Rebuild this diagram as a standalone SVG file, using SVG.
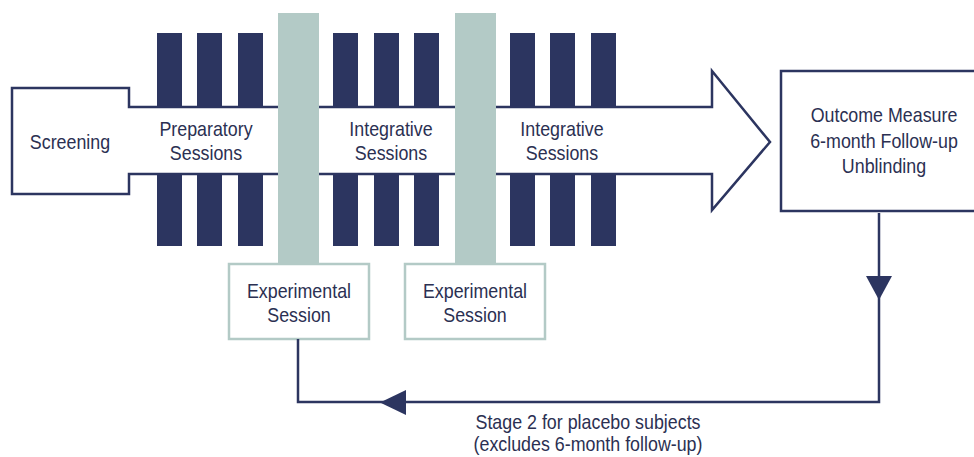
<svg xmlns="http://www.w3.org/2000/svg" width="974" height="457" viewBox="0 0 974 457">
<defs>
<style>
.bar{fill:#2c3560}
.col{fill:#b3cac6}
.out{fill:#fff;stroke:#2c3560;stroke-width:2.5}
.exp{fill:#fff;stroke:#b3cac6;stroke-width:2.5}
.conn{fill:none;stroke:#2c3560;stroke-width:2.5}
.head{fill:#2c3560}
text{font-family:"Liberation Sans",Arial,sans-serif;font-size:21px;fill:#2b3052;text-anchor:middle}
</style>
</defs>
<rect width="974" height="457" fill="#fff"/>
<g id="bars">
<rect class="bar" x="157" y="33" width="25" height="213"/>
<rect class="bar" x="197" y="33" width="25" height="213"/>
<rect class="bar" x="238" y="33" width="25" height="213"/>
<rect class="bar" x="333" y="33" width="25" height="213"/>
<rect class="bar" x="374" y="33" width="25" height="213"/>
<rect class="bar" x="414" y="33" width="25" height="213"/>
<rect class="bar" x="510" y="33" width="25" height="213"/>
<rect class="bar" x="550" y="33" width="25" height="213"/>
<rect class="bar" x="591" y="33" width="25" height="213"/>
</g>
<g id="timeline">
<polygon class="out" points="12,88 129,88 129,107 712,107 712,71 770,142 712,210 712,174 129,174 129,194 12,194"/>
<text transform="translate(70 149) scale(0.85 1)">Screening</text>
<text transform="translate(206 136) scale(0.85 1)">Preparatory</text>
<text transform="translate(206 160) scale(0.85 1)">Sessions</text>
<text transform="translate(391 136) scale(0.85 1)">Integrative</text>
<text transform="translate(391 160) scale(0.85 1)">Sessions</text>
<text transform="translate(562 136) scale(0.85 1)">Integrative</text>
<text transform="translate(562 160) scale(0.85 1)">Sessions</text>
</g>
<g id="columns">
<rect class="col" x="278" y="13" width="41" height="252"/>
<rect class="col" x="455" y="13" width="41" height="252"/>
</g>
<g id="exp1">
<rect class="exp" x="229" y="264" width="140" height="75"/>
<text transform="translate(299 298) scale(0.85 1)">Experimental</text>
<text transform="translate(299 322) scale(0.85 1)">Session</text>
</g>
<g id="exp2">
<rect class="exp" x="405" y="264" width="140" height="75"/>
<text transform="translate(475 298) scale(0.85 1)">Experimental</text>
<text transform="translate(475 322) scale(0.85 1)">Session</text>
</g>
<g id="outcome">
<rect class="out" x="781" y="71" width="215" height="140"/>
<text transform="translate(884 122) scale(0.85 1)">Outcome Measure</text>
<text transform="translate(884 148) scale(0.85 1)">6-month Follow-up</text>
<text transform="translate(884 173) scale(0.85 1)">Unblinding</text>
</g>
<g id="connectors">
<polyline class="conn" points="879,213 879,402 298,402 298,339"/>
<polygon class="head" points="866,276 892,276 879,300"/>
<polygon class="head" points="406,390 406,415 380,402.5"/>
</g>
<g id="label">
<text transform="translate(588 429) scale(0.85 1)">Stage 2 for placebo subjects</text>
<text transform="translate(588 451) scale(0.85 1)">(excludes 6-month follow-up)</text>
</g>
</svg>
